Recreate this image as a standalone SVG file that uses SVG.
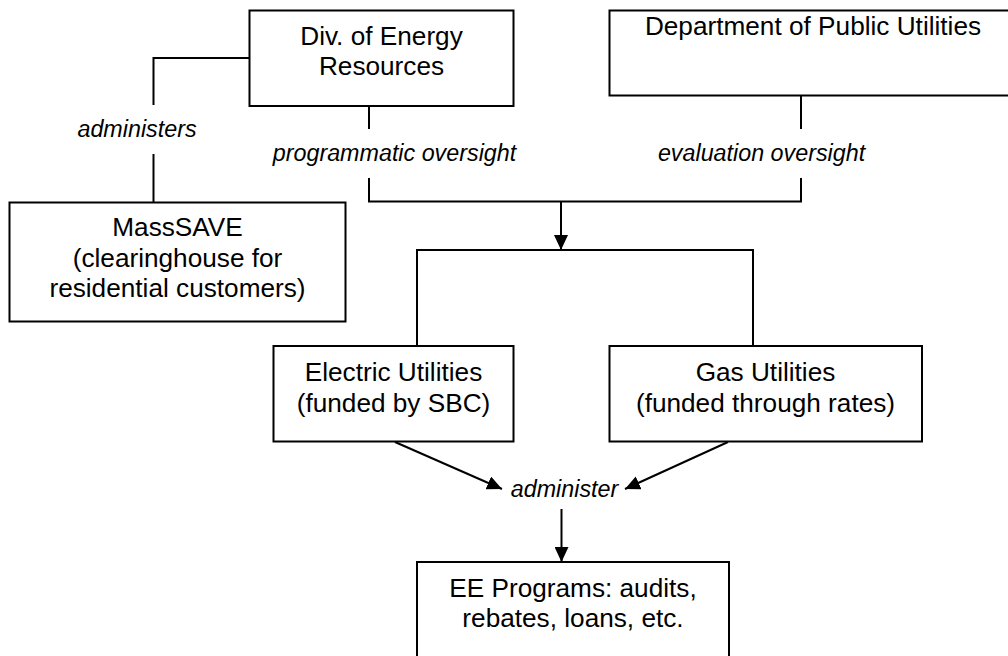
<svg xmlns="http://www.w3.org/2000/svg" width="1008" height="656" viewBox="0 0 1008 656">
<style>
.box{fill:#fff;stroke:#000;stroke-width:2}
.t{font-family:"Liberation Sans",Arial,sans-serif;font-size:26.2px;text-anchor:middle;fill:#000}
.l{font-family:"Liberation Sans",Arial,sans-serif;font-size:23.3px;font-style:italic;text-anchor:middle;fill:#000}
.c{fill:none;stroke:#000;stroke-width:2}
</style>
<defs>
<marker id="ah" markerUnits="userSpaceOnUse" markerWidth="16" markerHeight="14" refX="15" refY="7" orient="auto">
<path d="M0,0 L15,7 L0,14 Z" fill="#000"/>
</marker>
</defs>
<rect width="1008" height="656" fill="#fff"/>
<g id="connectors">
<polyline class="c" points="249,58 153.5,58 153.5,105"/>
<line class="c" x1="153.5" y1="154" x2="153.5" y2="202"/>
<line class="c" x1="369" y1="106" x2="369" y2="129"/>
<polyline class="c" points="369,178 369,201.5 801,201.5 801,178"/>
<line class="c" x1="801" y1="95" x2="801" y2="129"/>
<line class="c" x1="561" y1="201.5" x2="561" y2="250" marker-end="url(#ah)"/>
<polyline class="c" points="417,346 417,250 753,250 753,346"/>
<line class="c" x1="395" y1="442" x2="502" y2="489" marker-end="url(#ah)"/>
<line class="c" x1="728" y1="442" x2="625" y2="489" marker-end="url(#ah)"/>
<line class="c" x1="561.5" y1="509" x2="561.5" y2="562" marker-end="url(#ah)"/>
<text class="l" x="137" y="137">administers</text>
<text class="l" x="394.5" y="160.5">programmatic oversight</text>
<text class="l" x="761.5" y="160.5">evaluation oversight</text>
<text class="l" x="564.5" y="496.5">administer</text>
</g>
<g id="der">
<rect class="box" x="249.5" y="10.5" width="264" height="95.5"/>
<text class="t" x="381.5" y="45">Div. of Energy</text>
<text class="t" x="381.5" y="75">Resources</text>
</g>
<g id="dpu">
<rect class="box" x="609.5" y="10.5" width="408" height="85"/>
<text class="t" x="813" y="35">Department of Public Utilities</text>
</g>
<g id="masssave">
<rect class="box" x="9.5" y="202.5" width="336" height="119"/>
<text class="t" x="177.5" y="236">MassSAVE</text>
<text class="t" x="177.5" y="266.5">(clearinghouse for</text>
<text class="t" x="177.5" y="297">residential customers)</text>
</g>
<g id="electric">
<rect class="box" x="273.5" y="346" width="240" height="95.5"/>
<text class="t" x="393.5" y="380.5">Electric Utilities</text>
<text class="t" x="393.5" y="411.5">(funded by SBC)</text>
</g>
<g id="gas">
<rect class="box" x="609.5" y="346" width="312.5" height="95.5"/>
<text class="t" x="765.5" y="380.5">Gas Utilities</text>
<text class="t" x="765.5" y="411.5">(funded through rates)</text>
</g>
<g id="ee">
<rect class="box" x="417" y="562" width="312" height="110"/>
<text class="t" x="573" y="596.5">EE Programs: audits,</text>
<text class="t" x="573" y="626.5">rebates, loans, etc.</text>
</g>
</svg>
